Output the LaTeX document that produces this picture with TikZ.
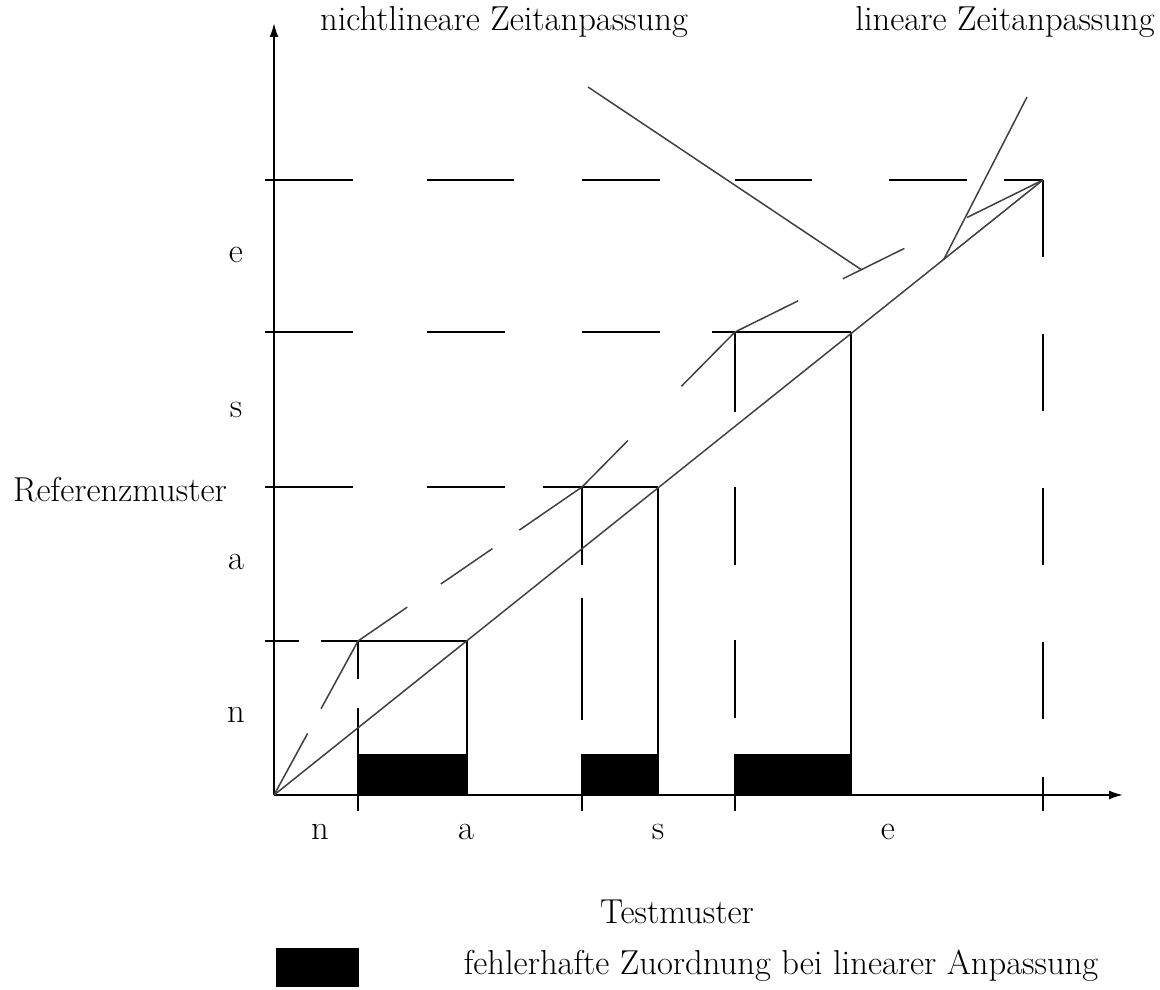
\documentclass[tikz,border=0pt]{standalone}
\usetikzlibrary{arrows.meta,calc}
\begin{document}
\begin{tikzpicture}[x=0.5pt,y=-0.5pt,
  axis/.style={line width=1pt,-{Latex[length=7pt,width=4.5pt]}},
  gridline/.style={line width=1pt},
  diag/.style={line width=0.75pt,black!75},
  lbl/.style={font=\fontsize{17.3}{20}\selectfont,inner sep=0pt}]
\useasboundingbox (0,0) rectangle (1160,989);
% key points
\coordinate (O) at (274,795);
\coordinate (P1) at (358,641);
\coordinate (P2) at (582,487);
\coordinate (P3) at (735,332);
\coordinate (P4) at (1043,180);
\coordinate (L1) at (467,641);
\coordinate (L2) at (658,487);
\coordinate (L3) at (851,332);
\coordinate (B1) at (467,795);
\coordinate (B2) at (658,795);
\coordinate (B3) at (851,795);
\coordinate (Xend) at (1123,795);
\coordinate (Yend) at (274,23);
% black bars
\fill (358,754) rectangle (B1);
\fill (582,754) rectangle (B2);
\fill (735,754) rectangle (B3);
% axes
\draw[axis] (O) -- (Xend);
\draw[axis] (O) -- (Yend);
% horizontal dashed grid lines
\draw[gridline] (265,180) -- (353,180) (427,180) -- (514,180) (582,180) -- (660,180)
  (735,180) -- (812,180) (889,180) -- (967,180) (1004,180) -- (P4);
\draw[gridline] (265,332) -- (353,332) (427,332) -- (505,332) (582,332) -- (660,332)
  (712,332) -- (L3);
\draw[gridline] (265,487) -- (353,487) (427,487) -- (505,487) (543,487) -- (L2);
\draw[gridline] (265,641) -- (299,641) (321,641) -- (L1);
% vertical dashed grid lines
\draw[gridline] (P1) -- (358,679) (358,708) -- (358,811);
\draw[gridline] (P2) -- (582,565) (582,598) -- (582,720) (582,754) -- (582,811);
\draw[gridline] (P3) -- (735,412) (735,487) -- (735,565) (735,640) -- (735,718) (735,754) -- (735,811);
\draw[gridline] (P4) -- (1043,257) (1043,334) -- (1043,411) (1043,488) -- (1043,565)
  (1043,642) -- (1043,719) (1043,777) -- (1043,811);
% solid right edges
\draw[gridline] (L1) -- (B1);
\draw[gridline] (L2) -- (B2);
\draw[gridline] (L3) -- (B3);
% linear alignment
\draw[diag] (O) -- (P4);
% nonlinear alignment (dashed)
\draw[diag] (O) -- ($(O)!0.40!(P1)$) ($(O)!0.56!(P1)$) -- (P1);
\draw[diag] (P1) -- ($(P1)!0.22!(P2)$) ($(P1)!0.37!(P2)$) -- ($(P1)!0.60!(P2)$) ($(P1)!0.72!(P2)$) -- (P2);
\draw[diag] (P2) -- ($(P2)!0.30!(P3)$) ($(P2)!0.65!(P3)$) -- (P3);
\draw[diag] (P3) -- ($(P3)!0.205!(P4)$) ($(P3)!0.35!(P4)$) -- ($(P3)!0.55!(P4)$) ($(P3)!0.753!(P4)$) -- (P4);
% pointers
\coordinate (NLs) at (588,87);
\coordinate (NLe) at ($(P3)!0.41!(P4)$);
\coordinate (LLs) at (1027,97);
\coordinate (LLe) at ($(O)!0.871!(P4)$);
\draw[diag] (NLs) -- (NLe);
\draw[diag] (LLs) -- (LLe);
% labels
\node[lbl] (tnl) at (504,22) {nichtlineare Zeitanpassung};
\node[lbl] (tl) at (1005,22) {lineare Zeitanpassung};
\node[lbl] (ref) at (120,490) {Referenzmuster};
\node[lbl] (ye) at (236,255) {e};
\node[lbl] (ys) at (236,410) {s};
\node[lbl] (ya) at (236,562) {a};
\node[lbl] (yn) at (236,715) {n};
\node[lbl] (xn) at (320,832) {n};
\node[lbl] (xa) at (466,832) {a};
\node[lbl] (xs) at (658,832) {s};
\node[lbl] (xe) at (888,832) {e};
\node[lbl] (test) at (677,912) {Testmuster};
\fill (276,948) rectangle (359,987);
\node[lbl] (leg) at (781,966) {fehlerhafte Zuordnung bei linearer Anpassung};
\end{tikzpicture}
\end{document}
